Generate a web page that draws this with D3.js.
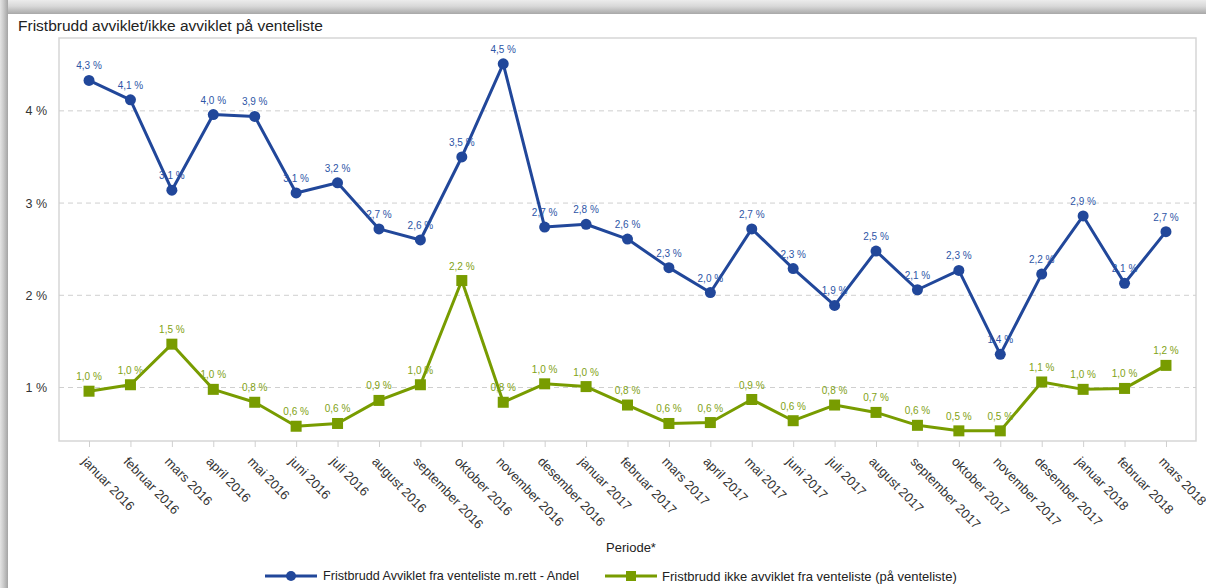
<!DOCTYPE html>
<html>
<head>
<meta charset="utf-8">
<script src="https://cdn.jsdelivr.net/npm/d3@7/dist/d3.min.js"></script>
<style>
  html, body { margin: 0; padding: 0; background: #fff; }
  svg { display: block; font-family: "Liberation Sans", Arial, sans-serif; }
</style>
</head>
<body>
<svg id="chart" width="1206" height="588"></svg>
<script>
// Months on the x axis
const periods = [
  "januar 2016", "februar 2016", "mars 2016", "april 2016", "mai 2016", "juni 2016",
  "juli 2016", "august 2016", "september 2016", "oktober 2016", "november 2016", "desember 2016",
  "januar 2017", "februar 2017", "mars 2017", "april 2017", "mai 2017", "juni 2017",
  "juli 2017", "august 2017", "september 2017", "oktober 2017", "november 2017", "desember 2017",
  "januar 2018", "februar 2018", "mars 2018"
];

// Share (%) of deadline breaches, completed from waiting list with right to treatment
const avviklet = [
  4.33, 4.12, 3.14, 3.96, 3.94, 3.11, 3.22, 2.72, 2.60, 3.50, 4.51, 2.74,
  2.77, 2.61, 2.30, 2.03, 2.72, 2.29, 1.89, 2.48, 2.06, 2.27, 1.36, 2.23,
  2.86, 2.13, 2.69
];

// Share (%) of deadline breaches still on the waiting list
const ikkeAvviklet = [
  0.96, 1.03, 1.47, 0.98, 0.84, 0.58, 0.61, 0.86, 1.03, 2.16, 0.84, 1.04,
  1.01, 0.81, 0.61, 0.62, 0.87, 0.64, 0.81, 0.73, 0.59, 0.53, 0.53, 1.06,
  0.98, 0.99, 1.24
];

const yTicks = [1, 2, 3, 4];

const seriesNames = [
  "Fristbrudd Avviklet fra venteliste m.rett - Andel",
  "Fristbrudd ikke avviklet fra venteliste (på venteliste)"
];

const title = "Fristbrudd avviklet/ikke avviklet på venteliste";
const xTitle = "Periode*";

const svg = d3.select("#chart");
const W = 1206, H = 588;

// Window frame shading (top and left edges)
const defs = svg.append("defs");
const gTop = defs.append("linearGradient").attr("id", "frameTop")
  .attr("x1", 0).attr("y1", 0).attr("x2", 0).attr("y2", 1);
gTop.append("stop").attr("offset", "0%").attr("stop-color", "#ececec");
gTop.append("stop").attr("offset", "45%").attr("stop-color", "#d8d8d8");
gTop.append("stop").attr("offset", "100%").attr("stop-color", "#a8a8a8");
const gLeft = defs.append("linearGradient").attr("id", "frameLeft")
  .attr("x1", 0).attr("y1", 0).attr("x2", 1).attr("y2", 0);
gLeft.append("stop").attr("offset", "0%").attr("stop-color", "#e4e4e4");
gLeft.append("stop").attr("offset", "40%").attr("stop-color", "#cdcdcd");
gLeft.append("stop").attr("offset", "100%").attr("stop-color", "#a4a4a4");

svg.append("rect").attr("x", 0).attr("y", 0).attr("width", W).attr("height", H).attr("fill", "#fff");
svg.append("rect").attr("x", 0).attr("y", 0).attr("width", W).attr("height", 14).attr("fill", "url(#frameTop)");
svg.append("rect").attr("x", 0).attr("y", 0).attr("width", 8).attr("height", H).attr("fill", "url(#frameLeft)");

// Plot area
const plot = { left: 59, right: 1196, top: 38, bottom: 441 };

const x = d3.scalePoint().domain(periods).range([plot.left, plot.right]).padding(0.725);
const y = d3.scaleLinear().domain([0.42, 4.79]).range([plot.bottom, plot.top]);

const blue = "#21479a", blueLabel = "#2d55a6";
const green = "#789c00", greenLabel = "#7fa214";

// Title
svg.append("text").attr("x", 18).attr("y", 31)
  .attr("font-size", 15.5).attr("fill", "#222").text(title);

// Plot border
svg.append("rect")
  .attr("x", plot.left).attr("y", plot.top)
  .attr("width", plot.right - plot.left).attr("height", plot.bottom - plot.top)
  .attr("fill", "none").attr("stroke", "#d6d6d6").attr("stroke-width", 1.5);

// Gridlines
svg.append("g").selectAll("line").data(yTicks).join("line")
  .attr("x1", plot.left).attr("x2", plot.right)
  .attr("y1", d => y(d)).attr("y2", d => y(d))
  .attr("stroke", "#cfcfcf").attr("stroke-dasharray", "5,4");

// Y axis
const yAxis = svg.append("g").attr("transform", `translate(${plot.left},0)`)
  .call(d3.axisLeft(y).tickValues(yTicks).tickSize(0).tickPadding(12).tickFormat(d => d + " %"));
yAxis.select(".domain").remove();
yAxis.selectAll("text").attr("font-size", 12.5).attr("fill", "#333")
  .attr("font-family", "Liberation Sans, Arial, sans-serif");

// X axis
const xAxis = svg.append("g").attr("transform", `translate(0,${plot.bottom})`)
  .call(d3.axisBottom(x).tickSize(6).tickPadding(2));
xAxis.select(".domain").remove();
xAxis.selectAll(".tick line").attr("stroke", "#cfcfcf");
xAxis.selectAll("text")
  .attr("font-size", 13).attr("fill", "#333")
  .attr("font-family", "Liberation Sans, Arial, sans-serif")
  .attr("text-anchor", "start")
  .attr("x", 0).attr("y", 0).attr("dy", "0.35em")
  .attr("transform", "translate(-5,18) rotate(46)");

// X axis title
svg.append("text").attr("x", 631).attr("y", 552).attr("text-anchor", "middle")
  .attr("font-size", 13).attr("fill", "#222").text(xTitle);

const fmt = v => d3.format(".1f")(v).replace(".", ",") + " %";

const line = d3.line().x((d, i) => x(periods[i])).y(d => y(d));

// Series: completed
svg.append("path").datum(avviklet).attr("d", line)
  .attr("fill", "none").attr("stroke", blue).attr("stroke-width", 3).attr("stroke-linejoin", "round");
svg.append("g").selectAll("circle").data(avviklet).join("circle")
  .attr("cx", (d, i) => x(periods[i])).attr("cy", d => y(d)).attr("r", 5.5).attr("fill", blue);
svg.append("g").selectAll("text").data(avviklet).join("text")
  .attr("x", (d, i) => x(periods[i])).attr("y", d => y(d) - 11)
  .attr("text-anchor", "middle").attr("font-size", 10).attr("fill", blueLabel)
  .text(d => fmt(d));

// Series: not completed
svg.append("path").datum(ikkeAvviklet).attr("d", line)
  .attr("fill", "none").attr("stroke", green).attr("stroke-width", 3).attr("stroke-linejoin", "round");
svg.append("g").selectAll("rect").data(ikkeAvviklet).join("rect")
  .attr("x", (d, i) => x(periods[i]) - 5.5).attr("y", d => y(d) - 5.5)
  .attr("width", 11).attr("height", 11).attr("fill", green);
svg.append("g").selectAll("text").data(ikkeAvviklet).join("text")
  .attr("x", (d, i) => x(periods[i])).attr("y", d => y(d) - 11)
  .attr("text-anchor", "middle").attr("font-size", 10).attr("fill", greenLabel)
  .text(d => fmt(d));

// Legend
const legend = svg.append("g");
const lg1 = legend.append("g").attr("transform", "translate(265,576)");
lg1.append("line").attr("x1", 0).attr("x2", 52).attr("stroke", blue).attr("stroke-width", 3);
lg1.append("circle").attr("cx", 26).attr("r", 5).attr("fill", blue);
lg1.append("text").attr("x", 58).attr("dy", "0.35em").attr("font-size", 12.6).attr("fill", "#222").text(seriesNames[0]);

const lg2 = legend.append("g").attr("transform", "translate(605,576)");
lg2.append("line").attr("x1", 0).attr("x2", 52).attr("stroke", green).attr("stroke-width", 3);
lg2.append("rect").attr("x", 21).attr("y", -5).attr("width", 10).attr("height", 10).attr("fill", green);
lg2.append("text").attr("x", 57).attr("dy", "0.35em").attr("font-size", 13).attr("fill", "#222").text(seriesNames[1]);
</script>
</body>
</html>
